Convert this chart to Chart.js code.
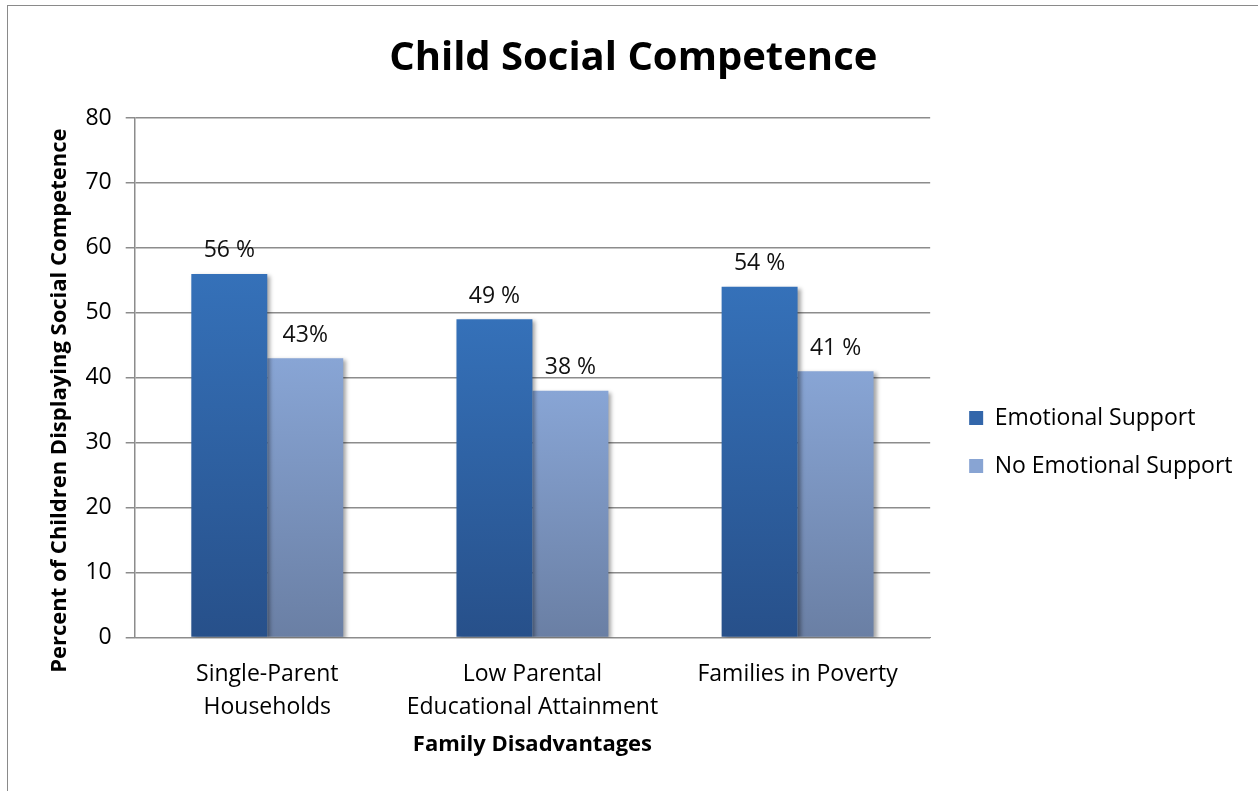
<!DOCTYPE html>
<html>
<head>
<meta charset="utf-8">
<script src="https://cdn.jsdelivr.net/npm/chart.js@4.4.0/dist/chart.umd.min.js"></script>
<style>
  html, body { margin: 0; padding: 0; background: #fff; overflow: hidden; }
  #frame { position: absolute; left: 7px; top: 5px; width: 1300px; height: 900px; border: 1px solid #8a8a8a; }
  #wrap { position: absolute; left: 0; top: 0; width: 1258px; height: 884px; }
</style>
</head>
<body>
<div id="frame"></div>
<div id="wrap"><canvas id="chart"></canvas></div>
<script>
/* DATA */
const categories = [["Single-Parent", "Households"], ["Low Parental", "Educational Attainment"], ["Families in Poverty"]];
const seriesNames = ["Emotional Support", "No Emotional Support"];
const emotionalSupport = [56, 49, 54];
const noEmotionalSupport = [43, 38, 41];
const emotionalLabels = ["56 %", "49 %", "54 %"];
const noEmotionalLabels = ["43%", "38 %", "41 %"];
const yMin = 0, yMax = 80, yStep = 10;

const FONT = "'Open Sans', sans-serif";
const FS = 23;
const legendColors = ["#3266aa", "#88a4d3"];

/* vertical gradient per bar, top colour -> bottom colour */
function barGradient(top, bottom) {
    return (c) => {
        const chart = c.chart;
        if (!chart.chartArea || !c.parsed) return top;
        const y = chart.scales.y;
        const y0 = y.getPixelForValue(c.parsed.y);
        const y1 = y.getPixelForValue(0);
        const g = chart.ctx.createLinearGradient(0, y0, 0, y1);
        g.addColorStop(0, top);
        g.addColorStop(1, bottom);
        return g;
    };
}

/* soft shadow behind the bars */
const barShadow = {
    id: "barShadow",
    beforeDatasetsDraw(chart) {
        const ctx = chart.ctx;
        ctx.save();
        ctx.shadowColor = "rgba(0,0,0,0.35)";
        ctx.shadowBlur = 4;
        ctx.shadowOffsetX = 3;
        ctx.shadowOffsetY = 2;
    },
    afterDatasetsDraw(chart) {
        chart.ctx.restore();
    }
};

/* nudge legend away from the plot and title a bit right */
const blockNudge = {
    id: "blockNudge",
    afterLayout(chart) {
        const lg = chart.legend;
        if (lg) { lg.left += 14; lg.right += 14; }
        const tt = chart.titleBlock;
        if (tt) { tt.left += 19; tt.right += 19; }
    }
};

/* value labels above bars */
const valueLabels = {
    id: "valueLabels",
    afterDraw(chart) {
        const ctx = chart.ctx;
        const texts = [emotionalLabels, noEmotionalLabels];
        ctx.save();
        ctx.font = FS + "px " + FONT;
        ctx.fillStyle = "#111";
        ctx.textAlign = "center";
        ctx.textBaseline = "middle";
        chart.data.datasets.forEach((ds, i) => {
            chart.getDatasetMeta(i).data.forEach((bar, j) => {
                ctx.fillText(texts[i][j], bar.x, bar.y - 23);
            });
        });
        ctx.restore();
    }
};

const chart = new Chart(document.getElementById("chart"), {
    type: "bar",
    data: {
        labels: categories,
        datasets: [{
            label: seriesNames[0],
            data: emotionalSupport,
            backgroundColor: barGradient("#3571b9", "#27508a")
        }, {
            label: seriesNames[1],
            data: noEmotionalSupport,
            backgroundColor: barGradient("#88a5d5", "#6a7fa4")
        }]
    },
    options: {
        responsive: true,
        maintainAspectRatio: false,
        animation: false,
        categoryPercentage: 0.573,
        barPercentage: 1,
        layout: { padding: { left: 0, right: 29.5, top: 0, bottom: 0 } },
        plugins: {
            title: {
                display: true,
                text: "Child Social Competence",
                color: "#000",
                font: { family: FONT, size: 40, weight: "bold" },
                padding: { top: 35, bottom: 35 }
            },
            legend: {
                position: "right",
                align: "center",
                labels: {
                    boxWidth: 14,
                    boxHeight: 14,
                    padding: 25,
                    color: "#000",
                    font: { family: FONT, size: FS },
                    generateLabels: () => seriesNames.map((n, i) => ({
                        text: n, fillStyle: legendColors[i], strokeStyle: legendColors[i],
                        lineWidth: 0, datasetIndex: i, hidden: false
                    }))
                }
            },
            tooltip: { enabled: false }
        },
        scales: {
            x: {
                grid: { display: false, drawTicks: false },
                border: { display: true, color: "#8c8c8c" },
                ticks: {
                    padding: 20,
                    color: "#000",
                    maxRotation: 0,
                    autoSkip: false,
                    font: { family: FONT, size: FS, lineHeight: 1.435 }
                },
                title: {
                    display: true,
                    text: "Family Disadvantages",
                    color: "#000",
                    font: { family: FONT, size: 22, weight: "bold" },
                    padding: { top: -12, bottom: 126 }
                }
            },
            y: {
                min: yMin,
                max: yMax,
                ticks: { stepSize: yStep, padding: 14, color: "#000", font: { family: FONT, size: FS } },
                grid: { color: "#8c8c8c", lineWidth: 1.5, tickLength: 9 },
                border: { color: "#8c8c8c", width: 1.5 },
                title: {
                    display: true,
                    text: "Percent of Children Displaying Social Competence\u00a0\u00a0\u00a0\u00a0\u00a0\u00a0\u00a0\u00a0",
                    color: "#000",
                    font: { family: FONT, size: 22, weight: "bold" },
                    padding: { top: 47, bottom: -2 }
                }
            }
        }
    },
    plugins: [barShadow, blockNudge, valueLabels]
});
</script>
</body>
</html>
